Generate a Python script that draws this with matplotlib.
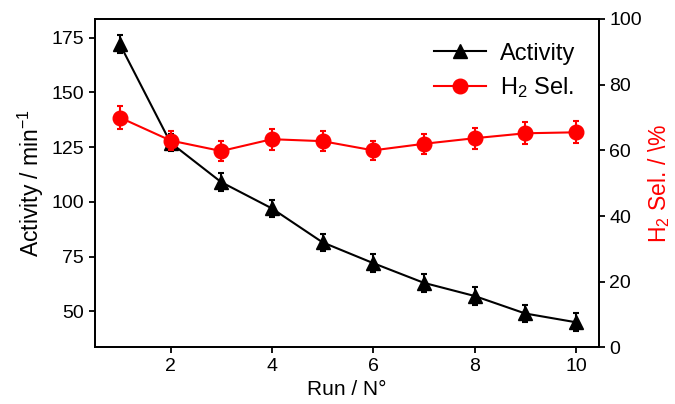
import matplotlib
matplotlib.use("Agg")
import matplotlib.pyplot as plt
from matplotlib.lines import Line2D

plt.rcParams['font.family'] = ['Liberation Sans', 'DejaVu Sans']
plt.rcParams['mathtext.fontset'] = 'custom'
plt.rcParams['mathtext.rm'] = 'Liberation Sans'
plt.rcParams['mathtext.it'] = 'Liberation Sans:italic'

runs = [1, 2, 3, 4, 5, 6, 7, 8, 9, 10]
activity = [172, 127, 109, 97, 81.5, 72, 63, 57, 49, 45]
activity_err = [4, 4, 4, 4, 4, 4, 4, 4, 4, 4]
h2_sel = [70, 63, 59.8, 63.4, 62.8, 60, 62, 63.7, 65.2, 65.5]
h2_err = [3.5, 3, 3, 3.2, 3, 3, 3, 3.2, 3.3, 3.3]

fig, ax = plt.subplots(figsize=(6.75, 4.04), dpi=100)
fig.subplots_adjust(left=0.14, right=0.887, top=0.953, bottom=0.14)
ax2 = ax.twinx()

ax.errorbar(runs, activity, yerr=activity_err, color='black', marker='^',
            markersize=10, lw=1.5, capsize=2.5, elinewidth=1.5, capthick=1.5,
            zorder=3)
ax2.errorbar(runs, h2_sel, yerr=h2_err, color='#ff0000', marker='o',
             markersize=10.5, lw=1.5, capsize=2.5, elinewidth=1.5, capthick=1.5)

ax.set_xlim(0.5, 10.45)
ax.set_ylim(33.5, 183.5)
ax2.set_ylim(0, 100)
ax.set_xticks([2, 4, 6, 8, 10])
ax.set_yticks([50, 75, 100, 125, 150, 175])
ax2.set_yticks([0, 20, 40, 60, 80, 100])

ax.set_xlabel('Run / N°', fontsize=15, labelpad=4)
ax.set_ylabel('Activity / min$^{-1}$', fontsize=16.5, labelpad=4)
ax2.set_ylabel('H$_2$ Sel. / \\%', fontsize=16.5, color='#ff0000', labelpad=3)

for a in (ax, ax2):
    a.tick_params(labelsize=14, width=1.3, length=4)
    for s in a.spines.values():
        s.set_linewidth(1.3)

handles = [Line2D([], [], color='black', marker='^', markersize=10, lw=1.5),
           Line2D([], [], color='#ff0000', marker='o', markersize=10.5, lw=1.5)]
ax.legend(handles, ['Activity', 'H$_2$ Sel.'], loc='upper right', frameon=False,
          fontsize=17, handlelength=2.2, borderaxespad=0.6, labelspacing=0.45,
          handletextpad=0.6)

fig.savefig('out.png', dpi=100)
